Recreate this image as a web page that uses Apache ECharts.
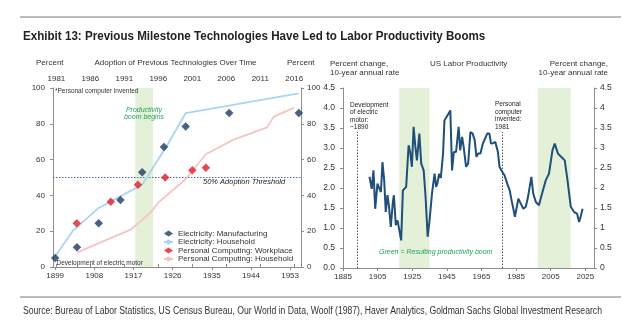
<!DOCTYPE html>
<html><head><meta charset="utf-8">
<script src="https://cdn.jsdelivr.net/npm/echarts@6/dist/echarts.min.js"></script>
<style>html,body{margin:0;padding:0;background:#fff}#c{width:623px;height:322px}</style>
</head><body><div id="c"></div>
<script>
// ---------- Left panel: adoption ----------
const elecMfgYears  = [1899, 1904, 1909, 1914, 1919, 1924, 1929, 1939, 1955];
const elecMfgValues = [5, 11, 24.5, 37.5, 53, 67, 78.5, 86, 86];
const elecHhYears   = [1899, 1903, 1909, 1919, 1925, 1929, 1955];
const elecHhValues  = [6, 20, 33, 46, 69, 86, 97];
const pcWorkYears   = [1984, 1989, 1993, 1997, 2001, 2003];
const pcWorkValues  = [24.5, 36.5, 46, 50, 54, 55.5];
const pcHhYears     = [1984, 1992, 1995, 1996, 2000, 2003, 2007, 2012, 2013, 2016];
const pcHhValues    = [8, 21, 31, 36, 49, 63, 71, 78, 84, 89];
const bottomTicks   = [1899, 1908, 1917, 1926, 1935, 1944, 1953];
const topTicks      = [1981, 1986, 1991, 1996, 2001, 2006, 2011, 2016];
const leftBoomBand  = [1917.4, 1921.5];
const thresholdPct  = 50;

// ---------- Right panel: US labor productivity ----------
const prodYears = [1900.3,1901.6,1902.6,1903.6,1904.9,1905.9,1906.9,1907.8,1908.8,1909.7,
  1910.7,1911.6,1912.6,1913.8,1914.4,1915.5,1916.5,1917.6,1918.6,1919.6,
  1920.6,1921.5,1922.9,1923.8,1924.8,1925.8,1926.7,1927.7,1929.1,1930.2,
  1931.6,1932.7,1933.9,1935.0,1936.4,1937.9,1938.8,1939.5,1940.5,1941.5,
  1942.8,1943.6,1944.7,1946.0,1947.0,1948.0,1949.0,1950.3,1951.8,1952.7,
  1953.8,1954.7,1956.1,1957.3,1958.6,1959.9,1961.1,1962.1,1963.1,1964.4,
  1965.8,1966.9,1968.3,1969.6,1970.5,1971.7,1973.0,1974.5,1975.4,1976.6,
  1978.3,1979.9,1981.3,1982.4,1983.4,1984.3,1985.3,1986.3,1987.7,1989.2,
  1990.6,1991.9,1992.9,1993.8,1994.9,1996.4,1998.2,2000.0,2002.1,2004.0,
  2006.0,2007.3,2009.2,2011.0,2013.1,2014.7,2016.6,2018.5,2020.2,2021.4,
  2022.4,2023.4];
const prodValues = [2.28,1.98,2.44,1.48,2.11,2.00,1.90,2.65,2.19,1.40,
  1.82,1.53,1.03,1.65,1.82,1.07,1.19,1.19,0.69,1.94,
  1.90,2.03,3.07,2.90,2.53,3.53,3.07,2.69,3.36,2.61,
  2.44,1.78,0.78,1.19,1.86,2.36,2.03,2.11,2.35,2.25,
  2.86,3.69,3.70,3.86,3.94,2.44,2.90,2.90,3.53,2.94,
  3.28,3.03,2.53,2.61,3.40,3.36,3.19,2.78,2.86,2.86,
  3.11,3.07,3.36,3.36,3.11,3.12,3.15,2.90,2.53,2.43,
  2.32,2.11,1.94,1.69,1.48,1.28,1.32,1.73,1.61,1.48,
  1.53,1.78,1.78,2.28,1.86,1.65,1.57,1.86,2.19,2.36,
  2.94,3.11,2.86,2.78,2.69,2.19,1.53,1.40,1.36,1.15,
  1.30,1.48];
const prodTicks = [1885, 1905, 1925, 1945, 1965, 1985, 2005, 2025];
const rightBoomBands = [[1917.5, 1935], [1997.5, 2016.5]];
const inventionYears = [1893.3, 1977];
const inventionLineTop = 3.4;

const zip = (a, b) => a.map((v, i) => [v, b[i]]);

const C = {
  axis: '#8c8c8c', text: '#333', navy: '#1b3966', red: '#dc1f2b',
  lblue: '#a9d5f3', pink: '#f8c3c4', band: '#e4f1d8', green: '#23a35a', prod: '#1f4f7a'
};
const F = 'Arial, "Liberation Sans", sans-serif';

function xAx(grid, pos, min, max, ticks) {
  return {
    type: 'value', gridIndex: grid, position: pos, min: min, max: max,
    axisLine: { show: true, lineStyle: { color: C.axis, width: 1 } },
    axisTick: { show: true, customValues: ticks, length: 3, inside: false, lineStyle: { color: C.axis } },
    axisLabel: { customValues: ticks, fontSize: 8, color: C.text, fontFamily: F, margin: 5,
                 formatter: v => String(v) },
    splitLine: { show: false }
  };
}
function yAx(grid, pos, max, interval, fmt, fs) {
  return {
    type: 'value', gridIndex: grid, position: pos, min: 0, max: max, interval: interval,
    axisLine: { show: true, lineStyle: { color: C.axis, width: 1 } },
    axisTick: { show: true, length: 3, lineStyle: { color: C.axis } },
    axisLabel: { fontSize: fs, color: C.text, fontFamily: F, margin: pos === 'left' ? 8 : 6, formatter: fmt },
    splitLine: { show: false }
  };
}

function txt(x, y, text, opts) {
  opts = opts || {};
  const align = opts.align || 'left';
  const va = opts.va || 'middle';
  return {
    type: 'text', x: x, y: y, silent: true, z: 100, scaleX: opts.sx || 1,
    style: {
      text: text, font: opts.font || ('8px ' + F), fill: opts.fill || C.text,
      align: align, verticalAlign: va, textAlign: align, textVerticalAlign: va,
      lineHeight: opts.lh
    }
  };
}

const chart = echarts.init(document.getElementById('c'), null, { renderer: 'canvas' });
chart.setOption({
  animation: false,
  backgroundColor: '#fff',
  grid: [
    { left: 53, top: 88, width: 248, height: 179 },
    { left: 343, top: 88, width: 251, height: 180 }
  ],
  xAxis: [
    xAx(0, 'bottom', 1898.5, 1955.5, bottomTicks),
    xAx(0, 'top', 1980.5, 2017, topTicks),
    xAx(1, 'bottom', 1885, 2030, prodTicks)
  ],
  yAxis: [
    yAx(0, 'left', 100, 20, v => String(v), 8),
    yAx(0, 'right', 100, 20, v => String(v), 8),
    yAx(1, 'left', 4.5, 0.5, v => v.toFixed(1), 8.5),
    yAx(1, 'right', 4.5, 0.5, v => String(v), 8.5)
  ],
  legend: {
    orient: 'vertical', left: 163, top: 229.5, itemGap: 0.5, itemWidth: 9, itemHeight: 6,
    padding: 0, selectedMode: false,
    textStyle: { fontSize: 8, color: C.text, fontFamily: F, lineHeight: 7.5, padding: 0 },
    data: ['Electricity: Manufacturing', 'Electricity: Household',
           'Personal Computing: Workplace', 'Personal Computing: Household']
  },
  series: [
    {
      name: 'Electricity: Household', type: 'line', xAxisIndex: 0, yAxisIndex: 0,
      data: zip(elecHhYears, elecHhValues), showSymbol: false, symbol: 'none', z: 3,
      lineStyle: { color: C.lblue, width: 1.8 }, itemStyle: { color: C.lblue },
      markArea: { silent: true, z: 1, itemStyle: { color: C.band },
        data: [[{ xAxis: leftBoomBand[0] }, { xAxis: leftBoomBand[1] }]] },
      markLine: { silent: true, symbol: 'none', z: 2,
        lineStyle: { color: '#4d7098', type: [1.5, 1.5], width: 1 }, label: { show: false },
        data: [{ yAxis: thresholdPct }] }
    },
    {
      name: 'Personal Computing: Household', type: 'line', xAxisIndex: 1, yAxisIndex: 0,
      data: zip(pcHhYears, pcHhValues), showSymbol: false, symbol: 'none', z: 3,
      lineStyle: { color: C.pink, width: 1.8 }, itemStyle: { color: C.pink }
    },
    {
      name: 'Electricity: Manufacturing', type: 'scatter', xAxisIndex: 0, yAxisIndex: 0,
      data: zip(elecMfgYears, elecMfgValues), symbol: 'diamond', symbolSize: 8.5, z: 5,
      itemStyle: { color: C.navy }
    },
    {
      name: 'Personal Computing: Workplace', type: 'scatter', xAxisIndex: 1, yAxisIndex: 0,
      data: zip(pcWorkYears, pcWorkValues), symbol: 'diamond', symbolSize: 8.5, z: 5,
      itemStyle: { color: C.red }
    },
    {
      name: 'US Labor Productivity', type: 'line', xAxisIndex: 2, yAxisIndex: 2,
      data: zip(prodYears, prodValues), showSymbol: false, symbol: 'none', z: 4,
      lineStyle: { color: C.prod, width: 2 },
      markArea: { silent: true, z: 1, itemStyle: { color: C.band },
        data: rightBoomBands.map(b => [{ xAxis: b[0] }, { xAxis: b[1] }]) },
      markLine: { silent: true, symbol: 'none', z: 2,
        lineStyle: { color: '#555', type: [1.5, 1.5], width: 1 }, label: { show: false },
        data: inventionYears.map(y => [{ coord: [y, 0] }, { coord: [y, inventionLineTop] }]) }
    }
  ],
  graphic: [
    { type: 'line', silent: true, shape: { x1: 20, y1: 17, x2: 621, y2: 17 }, style: { stroke: '#a6a6a6', lineWidth: 1.5 } },
    { type: 'line', silent: true, shape: { x1: 20, y1: 297, x2: 621, y2: 297 }, style: { stroke: '#a6a6a6', lineWidth: 1.5 } },
    txt(23, 36.5, 'Exhibit 13: Previous Milestone Technologies Have Led to Labor Productivity Booms', { font: 'bold 13px ' + F, fill: '#222', sx: 0.893 }),
    txt(23, 311, 'Source: Bureau of Labor Statistics, US Census Bureau, Our World in Data, Woolf (1987), Haver Analytics, Goldman Sachs Global Investment Research', { font: '10px ' + F, fill: '#333', sx: 0.862 }),
    txt(36, 63, 'Percent'),
    txt(175.5, 63, 'Adoption of Previous Technologies Over Time', { align: 'center' }),
    txt(287, 63, 'Percent'),
    txt(330, 59, 'Percent change,\n10-year annual rate', { va: 'top', lh: 9.5 }),
    txt(430, 64, 'US Labor Productivity'),
    txt(608, 59, 'Percent change,\n10-year annual rate', { va: 'top', lh: 9.5, align: 'right' }),
    txt(55, 91, '*Personal computer invented', { font: '6.5px ' + F }),
    txt(56.5, 263, 'Development of electric motor', { font: '6.5px ' + F }),
    txt(144, 106.5, 'Productivity\nboom begins', { font: 'italic 7px ' + F, fill: C.green, align: 'center', va: 'top', lh: 7 }),
    txt(203, 182, '50% Adoption Threshold', { font: 'italic 7.5px ' + F, fill: '#222' }),
    txt(350, 101, 'Development\nof electric\nmotor:\n~1890', { font: '6.5px ' + F, va: 'top', lh: 7.6, fill: '#222' }),
    txt(495, 100.5, 'Personal\ncomputer\ninvented:\n1981', { font: '6.5px ' + F, va: 'top', lh: 7.6, fill: '#222' }),
    txt(379, 252, 'Green = Resulting productivity boom', { font: 'italic 7px ' + F, fill: C.green })
  ]
});
</script>
</body></html>
